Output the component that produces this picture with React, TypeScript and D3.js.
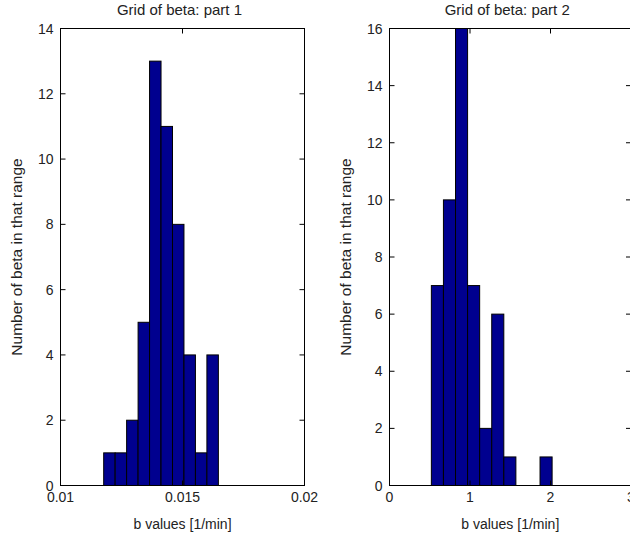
import React from "react";
import * as d3 from "d3";

const part1Edges = [0.01177, 0.01224, 0.01271, 0.01318, 0.01365, 0.01412, 0.01459, 0.01506, 0.01553, 0.016, 0.01647];
const part1Counts = [1, 1, 2, 5, 13, 11, 8, 4, 1, 4];
const part1XTicks = [0.01, 0.015, 0.02];
const part1YTicks = [0, 2, 4, 6, 8, 10, 12, 14];

const part2Edges = [0.52, 0.67, 0.82, 0.97, 1.12, 1.27, 1.42, 1.57, 1.72, 1.87, 2.02];
const part2Counts = [7, 10, 16, 7, 2, 6, 1, 0, 0, 1];
const part2XTicks = [0, 1, 2, 3];
const part2YTicks = [0, 2, 4, 6, 8, 10, 12, 14, 16];

const titles = ["Grid of beta: part 1", "Grid of beta: part 2"];
const xLabel = "b values [1/min]";
const yLabel = "Number of beta in that range";

const FONT = "'Liberation Sans', Arial, Helvetica, sans-serif";
const TEXT = "#222";

type PanelProps = {
  left: number;
  right: number;
  xDomain: [number, number];
  yDomain: [number, number];
  edges: number[];
  counts: number[];
  xTicks: number[];
  yTicks: number[];
  title: string;
  xFmt: (v: number) => string;
};

const TOP = 28.5;
const BOTTOM = 485.5;
const TICK = 5;

function Panel(p: PanelProps) {
  const x = d3.scaleLinear().domain(p.xDomain).range([p.left, p.right]);
  const y = d3.scaleLinear().domain(p.yDomain).range([BOTTOM, TOP]);
  const cx = (p.left + p.right) / 2;
  const cy = (TOP + BOTTOM) / 2;
  return (
    <g>
      {p.counts.map((c, i) =>
        c > 0 ? (
          <rect
            key={i}
            x={x(p.edges[i])}
            width={x(p.edges[i + 1]) - x(p.edges[i])}
            y={y(c)}
            height={y(0) - y(c)}
            fill="#00008f"
            stroke="#000"
            strokeWidth={1}
          />
        ) : null
      )}
      <rect x={p.left} y={TOP} width={p.right - p.left} height={BOTTOM - TOP} fill="none" stroke="#000" strokeWidth={1} />
      {p.xTicks.map((t) => (
        <g key={"x" + t}>
          <line x1={x(t)} x2={x(t)} y1={BOTTOM} y2={BOTTOM - TICK} stroke="#000" />
          <line x1={x(t)} x2={x(t)} y1={TOP} y2={TOP + TICK} stroke="#000" />
          <text x={x(t)} y={502} textAnchor="middle" fontSize={14} fontFamily={FONT} fill={TEXT}>
            {p.xFmt(t)}
          </text>
        </g>
      ))}
      {p.yTicks.map((t) => (
        <g key={"y" + t}>
          <line x1={p.left} x2={p.left + TICK} y1={y(t)} y2={y(t)} stroke="#000" />
          <line x1={p.right} x2={p.right - TICK} y1={y(t)} y2={y(t)} stroke="#000" />
          <text x={p.left - 7} y={y(t) + 5} textAnchor="end" fontSize={14} fontFamily={FONT} fill={TEXT}>
            {t}
          </text>
        </g>
      ))}
      <text x={cx - 3} y={15} textAnchor="middle" fontSize={15} fontFamily={FONT} fill={TEXT}>
        {p.title}
      </text>
      <text x={cx} y={529} textAnchor="middle" fontSize={14} fontFamily={FONT} fill={TEXT}>
        {xLabel}
      </text>
      <text
        transform={`translate(${p.left - 39},${cy}) rotate(-90)`}
        textAnchor="middle"
        fontSize={15.5}
        fontFamily={FONT}
        fill={TEXT}
      >
        {yLabel}
      </text>
    </g>
  );
}

export default function App() {
  return (
    <svg
      width={630}
      height={541}
      style={{ position: "absolute", left: 0, top: 0, background: "#fff" }}
      viewBox="0 0 630 541"
    >
      <rect width={630} height={541} fill="#fff" />
      <Panel
        left={60.5}
        right={304.5}
        xDomain={[0.01, 0.02]}
        yDomain={[0, 14]}
        edges={part1Edges}
        counts={part1Counts}
        xTicks={part1XTicks}
        yTicks={part1YTicks}
        title={titles[0]}
        xFmt={(v) => String(+v.toFixed(3))}
      />
      <Panel
        left={389.5}
        right={631}
        xDomain={[0, 3]}
        yDomain={[0, 16]}
        edges={part2Edges}
        counts={part2Counts}
        xTicks={part2XTicks}
        yTicks={part2YTicks}
        title={titles[1]}
        xFmt={(v) => String(v)}
      />
    </svg>
  );
}
